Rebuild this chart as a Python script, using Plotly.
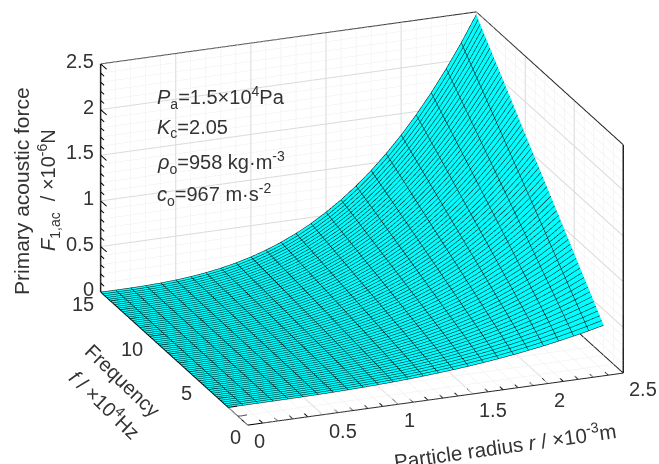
import plotly.graph_objects as go

# Data
radius = [0.0,0.1,0.2,0.3,0.4,0.5,0.6,0.7,0.8,0.9,1.0,1.1,1.2,1.3,1.4,1.5,1.6,1.7,1.8,1.9,2.0,2.1,2.2,2.3,2.4,2.5]
frequency = [2, 8.5, 15]
force_f2 = [0,0,.0002,.0006,.0013,.0026,.0046,.0072,.0108,.0154,.0211,.0281,.0364,.0463,.0578,.0711,.0863,.1036,.1229,.1446,.1686,.1952,.2245,.2565,.2914,.3294]
force_f8 = [0,.0001,.0007,.0024,.0057,.0112,.0194,.0307,.0459,.0653,.0896,.1192,.1548,.1968,.2458,.3024,.3670,.4402,.5225,.6145,.7167,.8297,.9540,1.0900,1.2385,1.3998]
force_f15 = [0,.0002,.0013,.0043,.0101,.0198,.0341,.0542,.0809,.1153,.1581,.2104,.2732,.3473,.4338,.5336,.6476,.7767,.9220,1.0844,1.2648,1.4642,1.6834,1.9236,2.1856,2.4703]

r_major = [0, 0.5, 1, 1.5, 2, 2.5]
f_major = [0, 5, 10, 15]
z_major = [0, 0.5, 1, 1.5, 2, 2.5]
r_minor = radius
f_minor = list(range(16))
z_minor = [0.1*i for i in range(26)]
FONT = "Liberation Sans"
TEXT = "#333333"

fig = go.Figure()
fig.add_trace(go.Surface(
    x=radius, y=frequency, z=[force_f2, force_f8, force_f15],
    colorscale=[[0, "#00FFFF"], [1, "#00FFFF"]], showscale=False, hoverinfo="skip",
    lighting=dict(ambient=1, diffuse=0, specular=0, fresnel=0),
    contours=dict(
        x=dict(show=True, start=0, end=2.5, size=0.1, color="#000000", width=2),
        y=dict(show=True, start=2, end=15, size=0.2, color="#000000", width=1),
    ),
))

def lines(segs, color, width, dash="solid"):
    xs, ys, zs = [], [], []
    for a, b in segs:
        xs += [a[0], b[0], None]; ys += [a[1], b[1], None]; zs += [a[2], b[2], None]
    fig.add_trace(go.Scatter3d(x=xs, y=ys, z=zs, mode="lines", hoverinfo="skip", showlegend=False,
                               line=dict(color=color, width=width, dash=dash)))

R, F, Z = r_major[-1], f_major[-1], z_major[-1]
def grid(rs, fs, zs):
    s = []
    for v in rs:
        s += [((v, 0, 0), (v, F, 0)), ((v, F, 0), (v, F, Z))]
    for v in fs:
        s += [((0, v, 0), (R, v, 0)), ((R, v, 0), (R, v, Z))]
    for v in zs:
        s += [((0, F, v), (R, F, v)), ((R, F, v), (R, 0, v))]
    return s

def is_major(v, major):
    return any(abs(v - m) < 1e-6 for m in major)

def ticks():
    s = []
    for v in r_minor:
        s.append(((v, 0, 0), (v, 0.6 if is_major(v, r_major) else 0.35, 0)))
    for v in f_minor:
        s.append(((0, v, 0), (0.1 if is_major(v, f_major) else 0.06, v, 0)))
    for v in z_minor:
        s.append(((0, F, v), (0, F - (0.6 if is_major(v, z_major) else 0.35), v)))
    return s

lines(grid(r_minor, f_minor, z_minor), "#eeeeee", 1)
lines(grid(r_major, f_major, z_major), "#d9d9d9", 2)
lines(ticks(), "#000000", 2)
lines([((0, F, Z), (R, F, Z)), ((R, F, Z), (R, 0, Z)), ((0, 0, 0), (R, 0, 0)), ((0, 0, 0), (0, F, 0)), ((R, 0, 0), (R, F, 0))], "#222222", 2)
lines([((0, F, 0), (0, F, Z)), ((R, 0, 0), (R, 0, Z))], "#222222", 3)

def axis(rng, vals):
    return dict(
        range=rng, tickmode="array", tickvals=vals, showticklabels=False,
        showgrid=False, showbackground=False, zeroline=False, showspikes=False,
        showline=False, ticks="", title=dict(text=""),
    )

def tick_label(v, x, y, z, xanchor, xshift, yshift):
    return dict(x=x, y=y, z=z, text="%g" % v, showarrow=False, xanchor=xanchor, yanchor="middle",
                xshift=xshift, yshift=yshift, font=dict(family=FONT, size=20, color=TEXT))

tick_labels = ([tick_label(v, v, 0, 0, "left", 4, -16) for v in r_major]
               + [tick_label(v, 0, v, 0, "right", -5, -12) for v in f_major]
               + [tick_label(v, 0, F, v, "right", -5, 3) for v in z_major])

fig.update_layout(
    width=659, height=464, margin=dict(l=0, r=0, t=0, b=0),
    paper_bgcolor="white", showlegend=False,
    scene=dict(
        domain=dict(x=[0.0986, 1], y=[0.058, 1]),
        aspectmode="manual", aspectratio=dict(x=1.846, y=1.846, z=1.117),
        camera=dict(projection=dict(type="orthographic"), up=dict(x=0, y=0, z=1),
                    center=dict(x=0, y=0, z=0), eye=dict(x=-0.341, y=-0.871, z=0.354)),
        xaxis=axis([0, 2.5], r_minor),
        yaxis=axis([0, 15], f_minor),
        zaxis=axis([0, 2.5], z_minor),
        annotations=tick_labels,
    ),
)

def note(text, x, y, angle=0, size=20, anchor="center"):
    fig.add_annotation(text=text, x=x/659, y=1-y/464, xref="paper", yref="paper", showarrow=False,
                       textangle=angle, xanchor=anchor, yanchor="middle",
                       font=dict(family=FONT, size=size, color=TEXT))

note("<i>P</i><sub>a</sub>=1.5×10<sup>4</sup>Pa", 155, 97, anchor="left")
note("<i>K</i><sub>c</sub>=2.05", 155, 129, anchor="left")
note("<i>ρ</i><sub>o</sub>=958 kg·m<sup>-3</sup>", 155, 162, anchor="left")
note("<i>c</i><sub>o</sub>=967 m·s<sup>-2</sup>", 155, 194, anchor="left")
note("Primary acoustic force", 21, 191, angle=-90, size=21)
note("<i>F</i><sub>1,ac</sub>  / ×10<sup>-6</sup>N", 48, 190, angle=-90)
note("Frequency", 123, 381, angle=44)
note("<i>f</i> / ×10<sup>4</sup>Hz", 106, 403, angle=44)
note("Particle radius <i>r</i> / ×10<sup>-3</sup>m", 505, 445, angle=-8, size=20.5)

fig.write_html("out.html", config=dict(displayModeBar=False), post_script="document.body.style.margin='0';")
